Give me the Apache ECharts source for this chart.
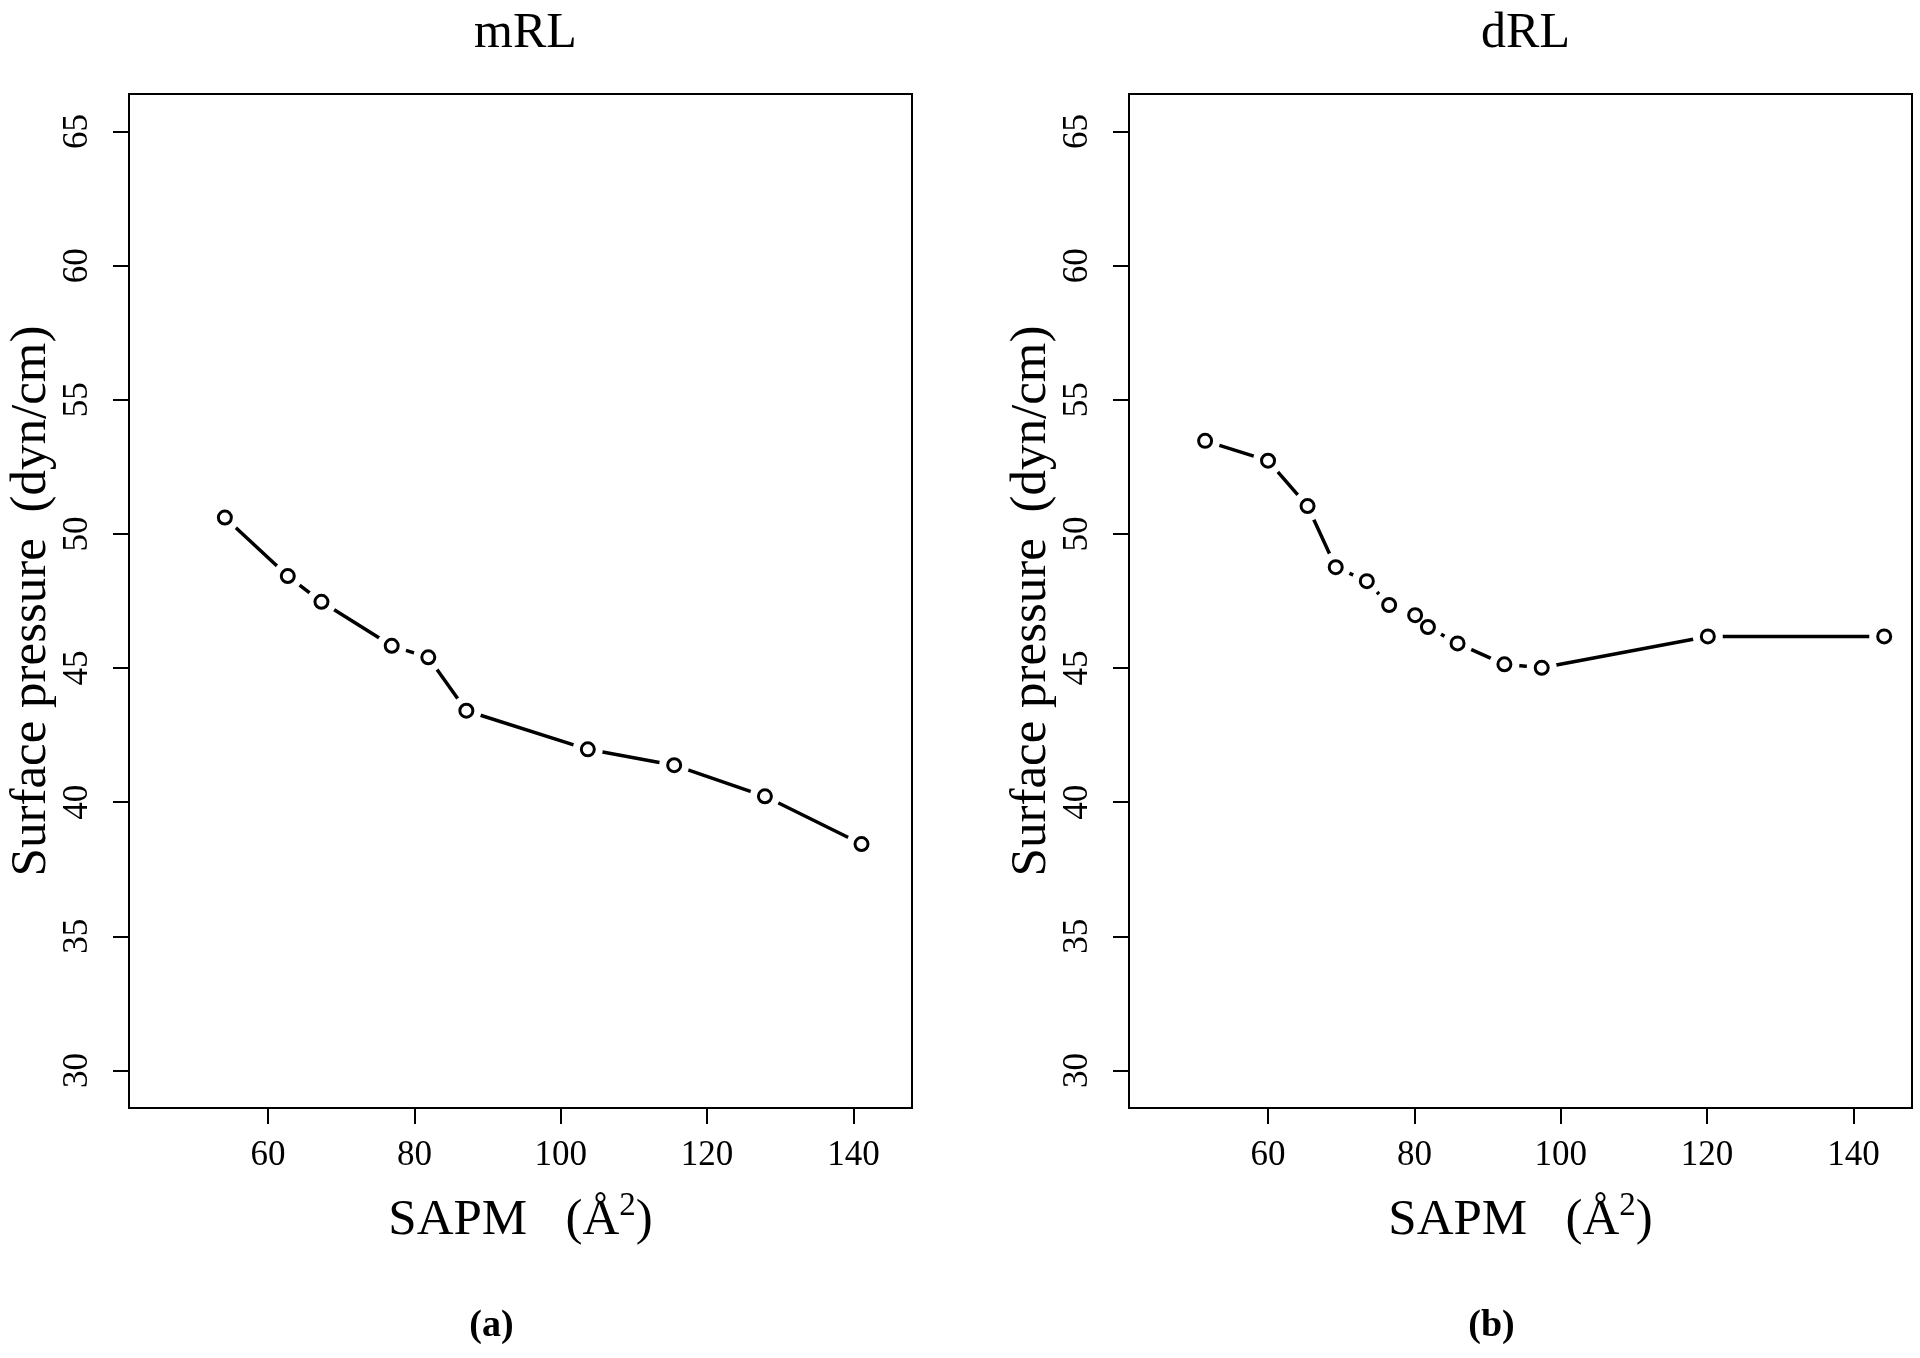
<!DOCTYPE html>
<html>
<head>
<meta charset="utf-8">
<script src="https://cdn.jsdelivr.net/npm/echarts@6/dist/echarts.min.js"></script>
<style>
  html, body { margin: 0; padding: 0; background: #fff; }
  #chart { width: 1920px; height: 1358px; }
</style>
</head>
<body>
<div id="chart"></div>
<script>
// ---- data ----
const panelTitles = ['mRL', 'dRL'];
const panelTags = ['(a)', '(b)'];
const mrlX = [54.1, 62.7, 67.3, 76.9, 81.9, 87.1, 103.7, 115.5, 127.9, 141.1];
const mrlY = [50.61, 48.43, 47.47, 45.83, 45.40, 43.41, 41.97, 41.38, 40.22, 38.44];
const drlX = [51.4, 60.0, 65.4, 69.25, 73.5, 76.55, 80.1, 81.85, 85.9, 92.3, 97.4, 120.1, 144.2];
const drlY = [53.47, 52.73, 51.04, 48.76, 48.24, 47.35, 46.97, 46.53, 45.92, 45.14, 45.01, 46.18, 46.18];
const xTicks = [60, 80, 100, 120, 140];
const yTicks = [30, 35, 40, 45, 50, 55, 60, 65];
const xRange = [41, 148];
const yRange = [28.6, 66.4];
const xAxisName = 'SAPM   (Å';
const yAxisName = 'Surface pressure  (dyn/cm)';

const FONT = 'Liberation Serif';
const chart = echarts.init(document.getElementById('chart'), null, { renderer: 'canvas' });

const gridLefts = [129, 1129];
const grids = gridLefts.map(l => ({
  left: l, top: 94, width: 783, height: 1014,
  show: true, borderColor: '#000', borderWidth: 2, backgroundColor: 'transparent'
}));

const xAxes = [0, 1].map(i => ({
  type: 'value', gridIndex: i, min: xRange[0], max: xRange[1],
  axisLine: { show: true, onZero: false, lineStyle: { color: '#000', width: 2 } },
  axisTick: { show: true, length: 16, inside: false, customValues: xTicks, lineStyle: { color: '#000', width: 2 } },
  axisLabel: { show: true, customValues: xTicks, margin: 30, color: '#000', fontFamily: FONT, fontSize: 35 },
  splitLine: { show: false },
  name: '{t|' + xAxisName + '}{s|2}{t|)}',
  nameLocation: 'middle', nameGap: 82,
  nameTextStyle: {
    color: '#000', fontFamily: FONT, fontSize: 51,
    rich: {
      t: { fontFamily: FONT, fontSize: 51, color: '#000', lineHeight: 62 },
      s: { fontFamily: FONT, fontSize: 33, color: '#000', verticalAlign: 'top', lineHeight: 33 }
    }
  }
}));

const yAxes = [0, 1].map(i => ({
  type: 'value', gridIndex: i, min: yRange[0], max: yRange[1],
  axisLine: { show: true, onZero: false, lineStyle: { color: '#000', width: 2 } },
  axisTick: { show: true, length: 16, inside: false, customValues: yTicks, lineStyle: { color: '#000', width: 2 } },
  axisLabel: { show: true, customValues: yTicks, rotate: 90, margin: 34, color: '#000', fontFamily: FONT, fontSize: 35 },
  splitLine: { show: false },
  name: yAxisName, nameLocation: 'middle', nameGap: 72, nameRotate: 90,
  nameTextStyle: { color: '#000', fontFamily: FONT, fontSize: 51 }
}));

function panelSeries(i, xs, ys) {
  const pts = xs.map((x, k) => [x, ys[k]]);
  return [
    { type: 'line', xAxisIndex: i, yAxisIndex: i, data: pts, symbol: 'none', z: 2,
      lineStyle: { color: '#000', width: 3.5 }, silent: true },
    { type: 'scatter', xAxisIndex: i, yAxisIndex: i, data: pts, symbol: 'circle', symbolSize: 30, z: 3,
      itemStyle: { color: '#fff', borderWidth: 0, opacity: 1 }, silent: true },
    { type: 'scatter', xAxisIndex: i, yAxisIndex: i, data: pts, symbol: 'circle', symbolSize: 13, z: 4,
      itemStyle: { color: '#fff', borderColor: '#000', borderWidth: 3, opacity: 1 }, silent: true }
  ];
}

const centers = gridLefts.map(l => l + 783 / 2);
const titles = [];
panelTitles.forEach((t, i) => titles.push({
  text: t, left: centers[i], top: 4, textAlign: 'center',
  textStyle: { fontFamily: FONT, fontSize: 50, fontWeight: 'normal', color: '#000' }
}));
panelTags.forEach((t, i) => titles.push({
  text: t, left: centers[i] - 34, top: 1302, textAlign: 'center',
  textStyle: { fontFamily: FONT, fontSize: 38, fontWeight: 'bold', color: '#000' }
}));

chart.setOption({
  animation: false,
  backgroundColor: '#fff',
  title: titles,
  grid: grids,
  xAxis: xAxes,
  yAxis: yAxes,
  series: [...panelSeries(0, mrlX, mrlY), ...panelSeries(1, drlX, drlY)]
});
</script>
</body>
</html>
